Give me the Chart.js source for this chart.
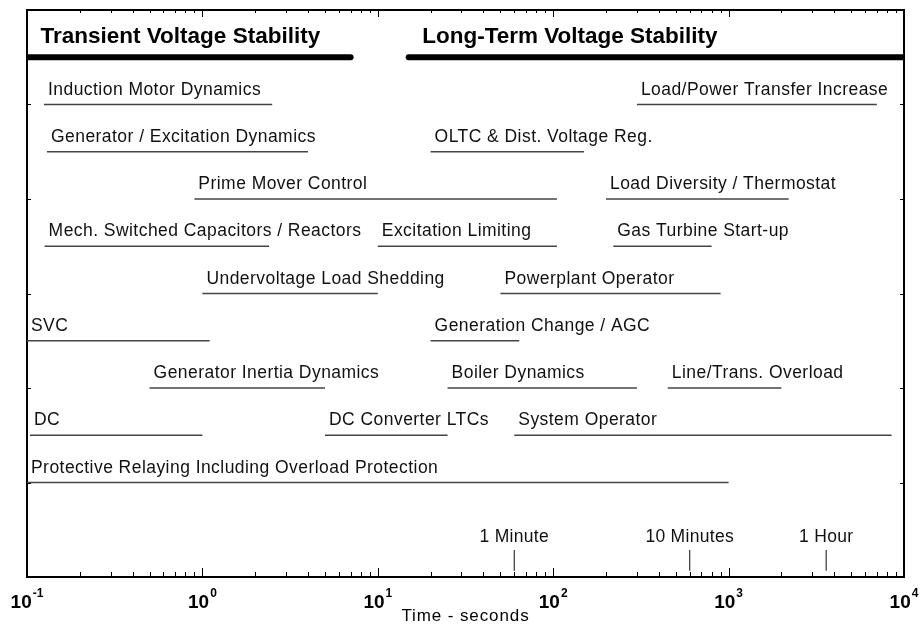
<!DOCTYPE html>
<html>
<head>
<meta charset="utf-8">
<title>Voltage Stability Time Frames</title>
<script src="https://cdn.jsdelivr.net/npm/chart.js@4"></script>
<style>
  html, body { margin: 0; padding: 0; background: #fff; }
  #wrap { width: 922px; height: 637px; }
</style>
</head>
<body>
<div id="wrap"><canvas id="chartCanvas" width="922" height="637"></canvas></div>
<script>
// phenomena / controls and the time span (seconds) each one acts over
const segLabels = [
  'Induction Motor Dynamics', 'Load/Power Transfer Increase',
  'Generator / Excitation Dynamics', 'OLTC & Dist. Voltage Reg.',
  'Prime Mover Control', 'Load Diversity / Thermostat',
  'Mech. Switched Capacitors / Reactors', 'Excitation Limiting', 'Gas Turbine Start-up',
  'Undervoltage Load Shedding', 'Powerplant Operator',
  'SVC', 'Generation Change / AGC',
  'Generator Inertia Dynamics', 'Boiler Dynamics', 'Line/Trans. Overload',
  'DC', 'DC Converter LTCs', 'System Operator',
  'Protective Relaying Including Overload Protection'
];
const segStart = [0.125, 300, 0.13, 20, 0.9, 200, 0.126, 10, 220, 1, 50, 0.1, 20, 0.5, 25, 450, 0.104, 5, 60, 0.1];
const segEnd   = [2.5, 7000, 4, 150, 105, 2200, 2.4, 105, 800, 10, 900, 1.1, 64, 5, 300, 2000, 1, 25, 8500, 1000];
const segRow   = [10, 10, 9, 9, 8, 8, 7, 7, 7, 6, 6, 5, 5, 4, 4, 4, 3, 3, 3, 2];

// the two stability classes along the top
const headerLabels = ['Transient Voltage Stability', 'Long-Term Voltage Stability'];
const headerStart = [0.1, 15];
const headerEnd = [7, 10000];
const headerRow = 11;

// reference times marked above the axis
const markerLabels = ['1 Minute', '10 Minutes', '1 Hour'];
const markerTimes = [60, 600, 3600];
const markerLow = 0.13;
const markerHigh = 0.57;

// decade tick labels, drawn as 10^n
const tickValues = [0.1, 1, 10, 100, 1000, 10000];
const tickExponents = ['-1', '0', '1', '2', '3', '4'];
const rowTicks = [2, 4, 6, 8, 10];

const FONT = '"Liberation Sans", Arial, Helvetica, sans-serif';

const datasets = [];
segLabels.forEach((label, i) => {
  datasets.push({
    label,
    data: [{ x: segStart[i], y: segRow[i] }, { x: segEnd[i], y: segRow[i] }],
    borderColor: '#444',
    borderWidth: 1.3,
    showLine: true,
    pointRadius: 0
  });
});
headerLabels.forEach((label, i) => {
  datasets.push({
    label,
    data: [{ x: headerStart[i], y: headerRow }, { x: headerEnd[i], y: headerRow }],
    borderColor: '#000',
    borderWidth: 6,
    borderCapStyle: 'round',
    showLine: true,
    pointRadius: 0
  });
});
markerTimes.forEach((t, i) => {
  datasets.push({
    label: markerLabels[i],
    data: [{ x: t, y: markerLow }, { x: t, y: markerHigh }],
    borderColor: '#333',
    borderWidth: 1.2,
    showLine: true,
    pointRadius: 0
  });
});

// inward ticks, text labels and the 10^n axis numbers
const annotate = {
  id: 'annotate',
  afterDatasetsDraw(chart) {
    const { ctx, chartArea } = chart;
    const xs = chart.scales.x;
    const ys = chart.scales.y;
    ctx.save();

    // log ticks on bottom and top
    ctx.strokeStyle = '#000';
    ctx.lineWidth = 1;
    for (let d = -1; d <= 3; d++) {
      for (let m = 1; m <= 9; m++) {
        const v = m * Math.pow(10, d);
        const px = Math.round(xs.getPixelForValue(v)) + 0.5;
        const len = m === 1 ? 9 : 5;
        ctx.beginPath();
        ctx.moveTo(px, chartArea.bottom);
        ctx.lineTo(px, chartArea.bottom - len);
        ctx.moveTo(px, chartArea.top);
        ctx.lineTo(px, chartArea.top + len - 2);
        ctx.stroke();
      }
    }
    // small ticks on left and right
    rowTicks.forEach(r => {
      const py = Math.round(ys.getPixelForValue(r)) + 0.5;
      ctx.beginPath();
      ctx.moveTo(chartArea.left, py);
      ctx.lineTo(chartArea.left + 4, py);
      ctx.moveTo(chartArea.right, py);
      ctx.lineTo(chartArea.right - 4, py);
      ctx.stroke();
    });

    // segment labels sit just above the start of each line
    ctx.fillStyle = '#111';
    ctx.textBaseline = 'alphabetic';
    ctx.textAlign = 'left';
    ctx.font = '17.5px ' + FONT;
    ctx.letterSpacing = '0.45px';
    segLabels.forEach((label, i) => {
      const px = xs.getPixelForValue(segStart[i]);
      const py = ys.getPixelForValue(segRow[i]);
      ctx.fillText(label, Math.max(px, chartArea.left) + 4, py - 10);
    });

    // headers
    ctx.font = 'bold 22.5px ' + FONT;
    ctx.letterSpacing = '0px';
    ctx.fillStyle = '#000';
    headerLabels.forEach((label, i) => {
      const px = Math.max(xs.getPixelForValue(headerStart[i]), chartArea.left);
      const py = ys.getPixelForValue(headerRow);
      ctx.fillText(label, px + 13.5, py - 14.5);
    });

    // time markers
    ctx.font = '17.5px ' + FONT;
    ctx.letterSpacing = '0.3px';
    ctx.textAlign = 'center';
    ctx.fillStyle = '#111';
    markerTimes.forEach((t, i) => {
      const px = xs.getPixelForValue(t);
      const py = ys.getPixelForValue(markerHigh);
      ctx.fillText(markerLabels[i], px, py - 8);
    });

    // 10^n labels under the axis
    ctx.letterSpacing = '0px';
    ctx.textAlign = 'left';
    ctx.fillStyle = '#000';
    tickValues.forEach((v, i) => {
      const px = xs.getPixelForValue(v);
      ctx.font = 'bold 19px ' + FONT;
      const baseW = ctx.measureText('10').width;
      ctx.font = 'bold 12px ' + FONT;
      const expW = ctx.measureText(tickExponents[i]).width;
      const x0 = px - (baseW + expW + 1) / 2;
      ctx.font = 'bold 19px ' + FONT;
      ctx.fillText('10', x0, chartArea.bottom + 31);
      ctx.font = 'bold 12px ' + FONT;
      ctx.fillText(tickExponents[i], x0 + baseW + 1, chartArea.bottom + 20);
    });

    // axis title
    ctx.font = '17px ' + FONT;
    ctx.letterSpacing = '0.9px';
    ctx.textAlign = 'center';
    ctx.fillText('Time - seconds', (chartArea.left + chartArea.right) / 2, chartArea.bottom + 44);

    ctx.restore();
  }
};

const hiddenAxis = {
  ticks: { display: false },
  grid: { display: false, drawTicks: false },
  border: { display: true, color: '#000', width: 2 }
};

new Chart(document.getElementById('chartCanvas'), {
  type: 'scatter',
  data: { datasets },
  options: {
    responsive: false,
    animation: false,
    layout: { padding: { left: 27, right: 18, top: 10, bottom: 60 } },
    plugins: { legend: { display: false }, tooltip: { enabled: false } },
    scales: {
      x: { type: 'logarithmic', position: 'bottom', min: 0.1, max: 10000, ...hiddenAxis },
      x2: { type: 'logarithmic', position: 'top', min: 0.1, max: 10000, ...hiddenAxis },
      y: { type: 'linear', position: 'left', min: 0, max: 12, ...hiddenAxis },
      y2: { type: 'linear', position: 'right', min: 0, max: 12, ...hiddenAxis }
    }
  },
  plugins: [annotate]
});
</script>
</body>
</html>
